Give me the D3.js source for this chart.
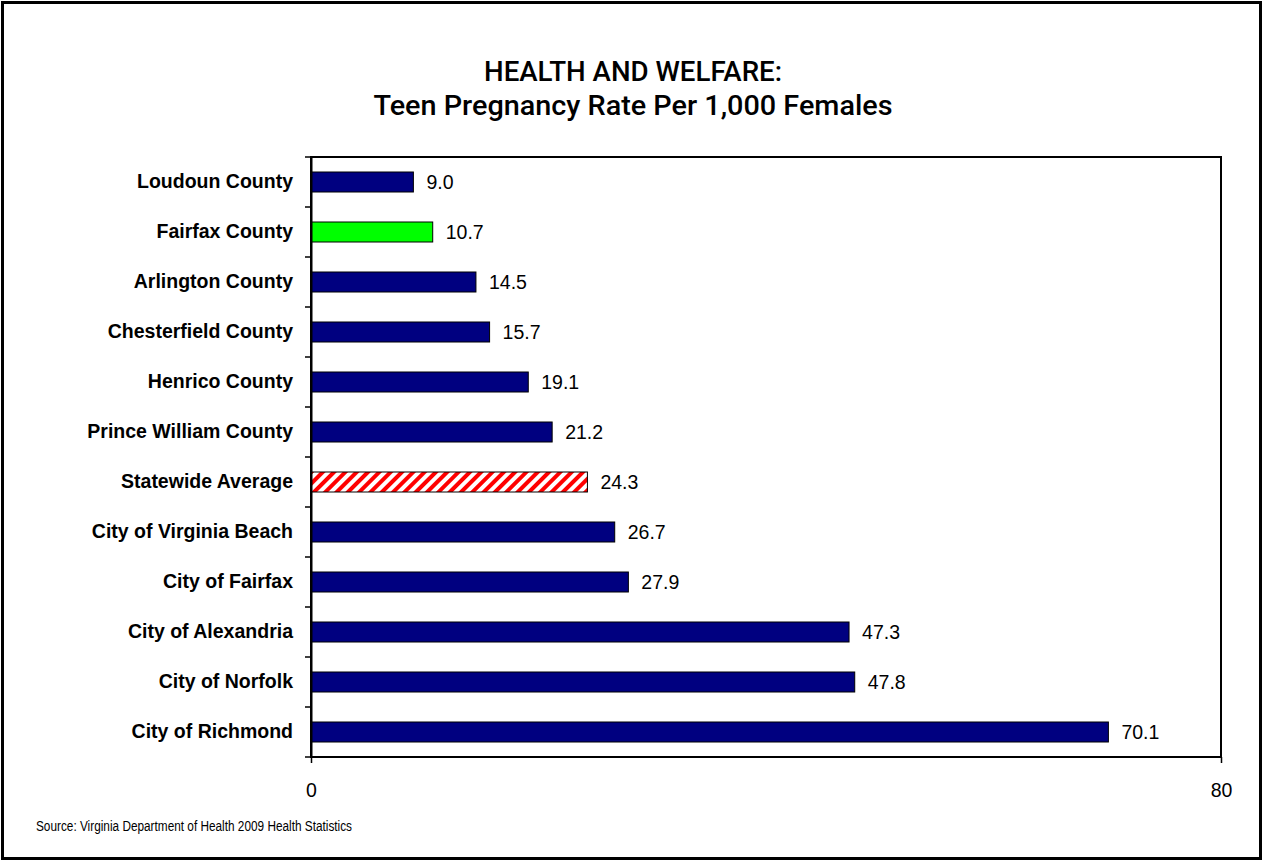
<!DOCTYPE html>
<html><head><meta charset="utf-8">
<script src="https://cdn.jsdelivr.net/npm/d3@7"></script>
<style>body{margin:0;background:#fff}svg{display:block}</style>
</head><body>
<script>
const categories = ["Loudoun County","Fairfax County","Arlington County","Chesterfield County","Henrico County","Prince William County","Statewide Average","City of Virginia Beach","City of Fairfax","City of Alexandria","City of Norfolk","City of Richmond"];
const values = [9.0,10.7,14.5,15.7,19.1,21.2,24.3,26.7,27.9,47.3,47.8,70.1];
const barKinds = ["navy","green","navy","navy","navy","navy","hatch","navy","navy","navy","navy","navy"];
const xTicks = [0,80];
const titleLines = ["HEALTH AND WELFARE:","Teen Pregnancy Rate Per 1,000 Females"];
const sourceText = "Source: Virginia Department of Health 2009 Health Statistics";

const W=1263,H=861;
const svg=d3.select("body").append("svg").attr("width",W).attr("height",H);
const defs=svg.append("defs");
const pat=defs.append("pattern").attr("id","hatch").attr("patternUnits","userSpaceOnUse")
  .attr("width",8).attr("height",8).attr("patternTransform","rotate(45)");
pat.append("rect").attr("width",8).attr("height",8).attr("fill","#fff");
pat.append("rect").attr("width",4).attr("height",8).attr("fill","#ff0000");

svg.append("rect").attr("x",2.5).attr("y",2.5).attr("width",W-5).attr("height",H-5)
  .attr("fill","#fff").attr("stroke","#000").attr("stroke-width",3);

const m={left:311,right:1221,top:157,bottom:757};
const x=d3.scaleLinear().domain([0,80]).range([m.left,m.right]);
const y=d3.scaleBand().domain(categories).range([m.top,m.bottom]).paddingInner(0.6).paddingOuter(0.3);
const font="'Liberation Sans', Arial, sans-serif";

const titleWidths=[298,519];
const title=svg.append("text").attr("text-anchor","middle")
  .attr("font-family","Roboto, 'Liberation Sans', sans-serif").attr("font-weight",500).attr("font-size",28).attr("fill","#000");
title.selectAll("tspan").data(titleLines).join("tspan").attr("x",633)
  .attr("y",(d,i)=>81+i*34).attr("textLength",(d,i)=>titleWidths[i]).attr("lengthAdjust","spacingAndGlyphs").text(d=>d);

// plot frame
svg.append("rect").attr("x",m.left).attr("y",m.top).attr("width",m.right-m.left).attr("height",m.bottom-m.top)
  .attr("fill","none").attr("stroke","#000").attr("stroke-width",2);

const fills={navy:"#000080",green:"#00ff00",hatch:"url(#hatch)"};
svg.append("g").selectAll("rect").data(values).join("rect")
  .attr("x",x(0)).attr("y",(d,i)=>y(categories[i]))
  .attr("width",d=>x(d)-x(0)).attr("height",y.bandwidth())
  .attr("fill",(d,i)=>fills[barKinds[i]]).attr("stroke","#000").attr("stroke-width",1);

svg.append("g").selectAll("text").data(values).join("text")
  .attr("x",d=>x(d)+13).attr("y",(d,i)=>y(categories[i])+y.bandwidth()/2)
  .attr("dy","0.36em").attr("font-family",font).attr("font-size",19.5).text(d=>d.toFixed(1));

// y axis
const yAxisScale=d3.scaleBand().domain(categories).range([m.top,m.bottom]);
const ya=svg.append("g").attr("transform",`translate(${m.left},0)`)
  .call(d3.axisLeft(yAxisScale).tickSize(0).tickPadding(18));
ya.select(".domain").attr("stroke-width",2);
ya.selectAll("text").attr("font-family",font).attr("font-size",19.5).attr("font-weight","bold").attr("fill","#000");
// boundary ticks
const bounds=d3.range(categories.length+1).map(i=>m.top+i*yAxisScale.step());
svg.append("g").selectAll("line").data(bounds).join("line")
  .attr("x1",m.left-6).attr("x2",m.left).attr("y1",d=>d).attr("y2",d=>d).attr("stroke","#000").attr("stroke-width",1.5);

// x axis
const xa=svg.append("g").attr("transform",`translate(0,${m.bottom})`)
  .call(d3.axisBottom(x).tickValues(xTicks).tickSize(6).tickPadding(20));
xa.select(".domain").remove();
xa.selectAll("line").attr("stroke-width",1.5);
xa.selectAll("text").attr("font-family",font).attr("font-size",19.5).attr("fill","#000");

svg.append("text").attr("x",36).attr("y",831).attr("font-family",font).attr("font-size",14)
  .attr("textLength",316).attr("lengthAdjust","spacingAndGlyphs").text(sourceText);
</script>
</body></html>
